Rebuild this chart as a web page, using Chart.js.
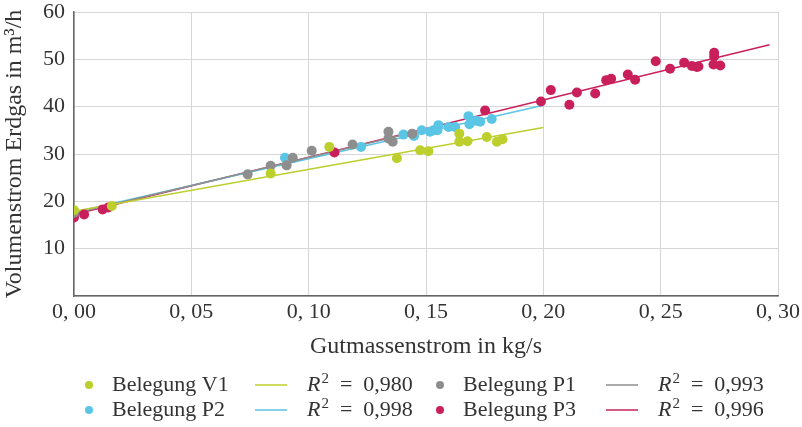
<!DOCTYPE html>
<html>
<head>
<meta charset="utf-8">
<script src="https://cdn.jsdelivr.net/npm/chart.js@4"></script>
<style>
  body { margin: 0; background: #fff; }
  .wrap { width: 802px; height: 427px; }
</style>
</head>
<body>
<div class="wrap"><canvas id="chart-scatter"></canvas></div>
<script>
// Messwerte je Belegung (x = Gutmassenstrom kg/s, y = Volumenstrom m3/h)
const v1X = [0.0, 0.0161, 0.0838, 0.1088, 0.1376, 0.1475, 0.1510, 0.1642, 0.1642, 0.1677, 0.1759, 0.1802, 0.1826];
const v1Y = [18.1, 19.0, 25.9, 31.5, 29.1, 30.8, 30.6, 34.3, 32.6, 32.7, 33.6, 32.6, 33.1];

const p1X = [0.0, 0.0740, 0.0838, 0.0906, 0.0932, 0.1013, 0.1187, 0.1340, 0.1340, 0.1358, 0.1441];
const p1Y = [17.6, 25.7, 27.5, 27.6, 29.2, 30.7, 32.0, 34.7, 33.3, 32.6, 34.3];

const p2X = [0.0, 0.0899, 0.1223, 0.1404, 0.1449, 0.1482, 0.1517, 0.1532, 0.1549, 0.1553, 0.1596, 0.1624, 0.1681, 0.1685, 0.1716, 0.1731, 0.1780];
const p2Y = [17.7, 29.2, 31.5, 34.1, 33.8, 35.0, 34.7, 35.0, 35.0, 36.1, 35.7, 35.7, 38.0, 36.3, 37.0, 36.8, 37.4];

const p3X = [0.0, 0.0, 0.0, 0.0043, 0.0122, 0.0146, 0.1110, 0.1752, 0.1990, 0.2032, 0.2111, 0.2143, 0.2221, 0.2268, 0.2289, 0.2360, 0.2391, 0.2479, 0.2540, 0.2600, 0.2633, 0.2654, 0.2661, 0.2728, 0.2728, 0.2725, 0.2754];
const p3Y = [16.6, 17.2, 17.8, 17.2, 18.3, 18.7, 30.3, 39.2, 41.1, 43.5, 40.4, 43.0, 42.8, 45.6, 45.9, 46.8, 45.7, 49.6, 48.0, 49.3, 48.6, 48.4, 48.5, 51.4, 50.6, 48.9, 48.7];

// Regressionsgeraden: Anfangs- und Endpunkt
const v1FitX = [0.0, 0.20];   const v1FitY = [17.9, 35.6];
const p1FitX = [0.0, 0.145];  const p1FitY = [17.4, 34.6];
const p2FitX = [0.0, 0.20];   const p2FitY = [17.7, 40.3];
const p3FitX = [0.0, 0.2964]; const p3FitY = [17.2, 53.1];

const namen = ['Belegung V1', 'Belegung P1', 'Belegung P2', 'Belegung P3'];
const bestimmtheit = ['0,980', '0,993', '0,998', '0,996'];
const farben = ['#bccf2d', '#8e8e8e', '#5bc5e5', '#c9205c'];

const xTicks = [0, 0.05, 0.10, 0.15, 0.20, 0.25, 0.30];
const yTicks = [0, 10, 20, 30, 40, 50, 60];

const paare = (xs, ys) => xs.map((x, i) => ({ x: x, y: ys[i] }));

const serif = "'Liberation Serif', 'Times New Roman', serif";

function punkte(i, xs, ys) {
    return {
        type: 'scatter',
        label: namen[i],
        data: paare(xs, ys),
        backgroundColor: farben[i],
        borderWidth: 0,
        pointRadius: 5,
        pointHoverRadius: 5,
        order: 0
    };
}

function gerade(i, xs, ys) {
    return {
        type: 'line',
        label: 'R² = ' + bestimmtheit[i],
        data: paare(xs, ys),
        borderColor: farben[i],
        borderWidth: 1.5,
        pointRadius: 0,
        fill: false,
        order: 1
    };
}

// eigene Legende: 2 Zeilen, Punkt + Name, Linie + R²
const legendePlugin = {
    id: 'legende',
    afterDraw(chart) {
        const c = chart.ctx;
        const spalten = [89, 440];
        const zeilen = [385, 410];
        c.save();
        c.textBaseline = 'middle';
        c.textAlign = 'left';
        for (let i = 0; i < 4; i++) {
            const bx = spalten[i % 2];
            const y = zeilen[Math.floor(i / 2)];
            c.fillStyle = farben[i];
            c.beginPath();
            c.arc(bx, y, 4, 0, Math.PI * 2);
            c.fill();

            c.fillStyle = '#333';
            c.font = '22px ' + serif;
            c.fillText(namen[i], bx + 23, y);

            c.strokeStyle = farben[i];
            c.lineWidth = 1.5;
            c.beginPath();
            c.moveTo(bx + 166, y);
            c.lineTo(bx + 198, y);
            c.stroke();

            let tx = bx + 218;
            c.fillStyle = '#333';
            c.font = 'italic 22px ' + serif;
            c.fillText('R', tx, y);
            tx += c.measureText('R').width + 1;
            c.font = '15px ' + serif;
            c.fillText('2', tx, y - 6);
            tx += c.measureText('2').width;
            c.font = '22px ' + serif;
            c.fillText('  =  ' + bestimmtheit[i], tx, y);
        }
        c.restore();
    }
};

const ctx = document.getElementById('chart-scatter');
new Chart(ctx, {
    data: {
        datasets: [
            gerade(0, v1FitX, v1FitY),
            gerade(1, p1FitX, p1FitY),
            gerade(2, p2FitX, p2FitY),
            gerade(3, p3FitX, p3FitY),
            punkte(0, v1X, v1Y),
            punkte(1, p1X, p1Y),
            punkte(2, p2X, p2Y),
            punkte(3, p3X, p3Y)
        ]
    },
    plugins: [legendePlugin],
    options: {
        responsive: true,
        maintainAspectRatio: false,
        animation: false,
        layout: {
            padding: { top: 12, right: 24, bottom: 62, left: 0 }
        },
        scales: {
            x: {
                type: 'linear',
                min: 0,
                max: 0.30,
                afterBuildTicks: (s) => { s.ticks = xTicks.map(v => ({ value: v })); },
                afterFit: (s) => { s.height = 69; s.paddingLeft = 0; s.paddingRight = 0; },
                border: { display: true, color: '#666', width: 1.5 },
                grid: { color: '#d6d6d6', lineWidth: 1, drawTicks: false },
                ticks: {
                    color: '#333',
                    padding: 5,
                    maxRotation: 0,
                    font: { family: serif, size: 22, lineHeight: 1 },
                    callback: (v) => Number(v).toFixed(2).replace('.', ', ')
                },
                title: {
                    display: true,
                    text: 'Gutmassenstrom in kg/s',
                    color: '#333',
                    padding: { top: 4, bottom: 4 },
                    font: { family: serif, size: 24 }
                }
            },
            y: {
                type: 'linear',
                min: 0,
                max: 60,
                afterBuildTicks: (s) => { s.ticks = yTicks.map(v => ({ value: v })); },
                afterFit: (s) => { s.width = 74; s.paddingTop = 0; s.paddingBottom = 0; },
                border: { display: true, color: '#666', width: 1.5 },
                grid: { color: '#d6d6d6', lineWidth: 1, drawTicks: false },
                ticks: {
                    color: '#333',
                    padding: 9,
                    font: { family: serif, size: 22, lineHeight: 1 },
                    callback: (v) => v === 0 ? '' : v
                },
                title: {
                    display: true,
                    text: 'Volumenstrom Erdgas in m³/h',
                    color: '#333',
                    padding: { top: 0, bottom: 0 },
                    font: { family: serif, size: 24 }
                }
            }
        },
        plugins: {
            legend: { display: false },
            tooltip: { enabled: false }
        }
    }
});
</script>
</body>
</html>
